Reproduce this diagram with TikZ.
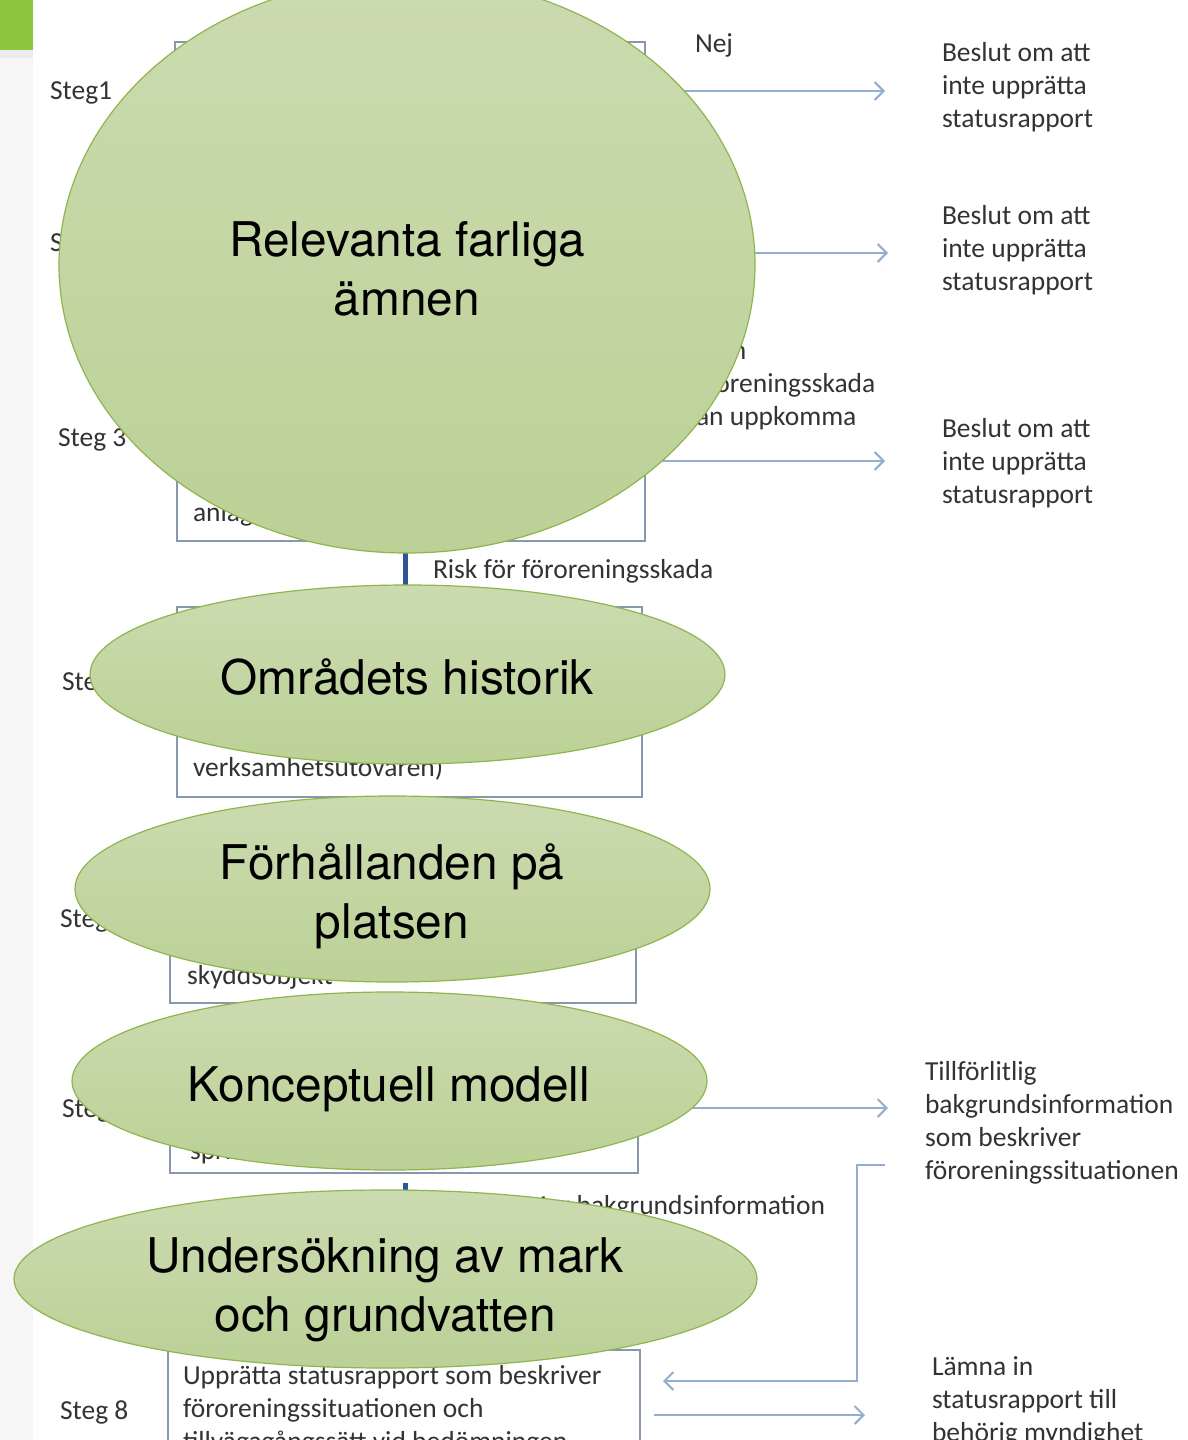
\documentclass[tikz,border=0pt]{standalone}
\usepackage{fontspec}
\setmainfont{Carlito}
\newfontfamily\heros{TeX Gyre Heros}
\usetikzlibrary{shapes.geometric,arrows.meta}
\definecolor{txtgray}{HTML}{333333}
\definecolor{boxline}{HTML}{8797AD}
\definecolor{arrowc}{HTML}{94AED0}
\definecolor{spinec}{HTML}{2E5597}
\definecolor{ellTop}{HTML}{CBDBB0}
\definecolor{ellBot}{HTML}{BBD196}
\definecolor{ellline}{HTML}{8FB54E}
\definecolor{greenbar}{HTML}{8DC63F}
\definecolor{strip}{HTML}{F6F6F6}
\definecolor{stripline}{HTML}{ECECEC}
\begin{document}
\begin{tikzpicture}[x=1pt,y=-1pt,
  stepbox/.style={draw=boxline, line width=1.8pt, fill=white, inner sep=0pt, outer sep=0pt, anchor=north west},
  lbl/.style={font=\fontsize{27.5}{33}\selectfont, text=txtgray, inner sep=0pt, outer sep=0pt, align=left, anchor=base west},
  arr/.style={draw=arrowc, line width=2pt, -{Straight Barb[length=9pt,width=18pt]}},
  spineline/.style={draw=spinec, line width=5pt},
  ell/.style={ellipse, draw=ellline, line width=1.2pt, top color=ellTop, bottom color=ellBot, inner sep=0pt},
  etext/.style={font=\heros\fontsize{47.8}{59}\selectfont, text=black, align=center, anchor=base, inner sep=0pt}]
\clip (0,0) rectangle (1188,1440);
% background
\fill[white] (0,0) rectangle (1188,1440);
\fill[strip] (0,0) rectangle (33,1440);
\fill[greenbar] (0,0) rectangle (33,50);
\fill[stripline] (0,50) rectangle (33,58);
% step boxes
\node[stepbox, minimum width=470pt, minimum height=98pt] (b1) at (175,42) {};
\node[stepbox, minimum width=468pt, minimum height=160pt] (b3) at (177,381) {};
\node[stepbox, minimum width=465pt, minimum height=190pt] (b4) at (177,607) {};
\node[stepbox, minimum width=466pt, minimum height=172pt] (b5) at (170,831) {};
\node[stepbox, minimum width=468pt, minimum height=133pt] (b6) at (170,1040) {};
\node[stepbox, minimum width=472pt, minimum height=140pt] (b8) at (168,1350) {};
% step labels
\node[lbl] (s1) at (50,99) {Steg1};
\node[lbl] (s2) at (50,251) {Steg 2};
\node[lbl] (s3) at (58,446) {Steg 3};
\node[lbl] (s4) at (62,690) {Steg 4};
\node[lbl] (s5) at (60,927) {Steg 5};
\node[lbl] (s6) at (62,1117) {Steg 6};
\node[lbl] (s8) at (60,1419) {Steg 8};
% texts (base anchor = baseline of last line)
\node[lbl] (nej) at (695,52) {Nej};
\node[lbl] (d1) at (942,127) {Beslut om att\\inte upprätta\\statusrapport};
\node[lbl] (d2) at (942,290) {Beslut om att\\inte upprätta\\statusrapport};
\node[lbl] (d3) at (942,503) {Beslut om att\\inte upprätta\\statusrapport};
\node[lbl] (nej3) at (684,425) {Ingen\\föroreningsskada\\kan uppkomma};
\node[lbl] (t3) at (193,521) {anläggningen};
\node[lbl] (risk) at (433,578) {Risk för föroreningsskada};
\node[lbl] (t4) at (193,776) {verksamhetsutövaren)};
\node[lbl] (t5) at (187,984) {skyddsobjekt};
\node[lbl] (t6) at (190,1159) {spridningsvägar};
\node[lbl] (ok) at (925,1179) {Tillförlitlig\\bakgrundsinformation\\som beskriver\\föroreningssituationen};
\node[lbl, anchor=base east] (mer) at (825,1214) {Mer bakgrundsinformation};
\node[lbl] (t8) at (183,1450) {Upprätta statusrapport som beskriver\\föroreningssituationen och\\tillvägagångssätt vid bedömningen};
\node[lbl] (lamna) at (932,1441) {Lämna in\\statusrapport till\\behörig myndighet};
% arrows
\coordinate (a1) at (885,91);
\coordinate (b2e) at (645,253);
\coordinate (a2) at (888,253);
\coordinate (a3) at (885,461);
\coordinate (a6) at (888,1108);
\coordinate (fb) at (885,1165);
\coordinate (fbin) at (663,1381);
\coordinate (a8) at (865,1415);
\draw[arr] (b1.east) -- (a1);
\draw[arr] (b2e) -- (a2);
\draw[arr] (b3.east) -- (a3);
\draw[arr] (b6.east |- a6) -- (a6);
\draw[arr] (fb) -- (857,1165) |- (fbin);
\draw[arr, shorten <=14pt] (b8.east |- a8) -- (a8);
% spine connectors
\coordinate (sp) at (405,0);
\coordinate (b7n) at (405,1222);
\draw[spineline, shorten <=12pt, shorten >=8pt] (b3.south -| sp) -- (b4.north -| sp);
\draw[spineline, shorten <=10pt] (b6.south -| sp) -- (b7n);
% ellipses
\node[ell, minimum width=696pt, minimum height=576pt] (e1) at (407,265) {};
\node[ell, minimum width=635pt, minimum height=179pt] (e2) at (407.5,674.5) {};
\node[ell, minimum width=635pt, minimum height=186pt] (e3) at (392.5,889) {};
\node[ell, minimum width=635pt, minimum height=178pt] (e4) at (389.5,1081) {};
\node[ell, minimum width=743pt, minimum height=178pt] (e5) at (385.5,1279) {};
\node[etext] (l1) at (407,315) {Relevanta farliga\\ämnen};
\node[etext] (l2) at (407,694) {Områdets historik};
\node[etext] (l3) at (392,938) {Förhållanden på\\platsen};
\node[etext] (l4) at (389,1101) {Konceptuell modell};
\node[etext] (l5) at (385,1331) {Undersökning av mark\\och grundvatten};
\end{tikzpicture}
\end{document}
